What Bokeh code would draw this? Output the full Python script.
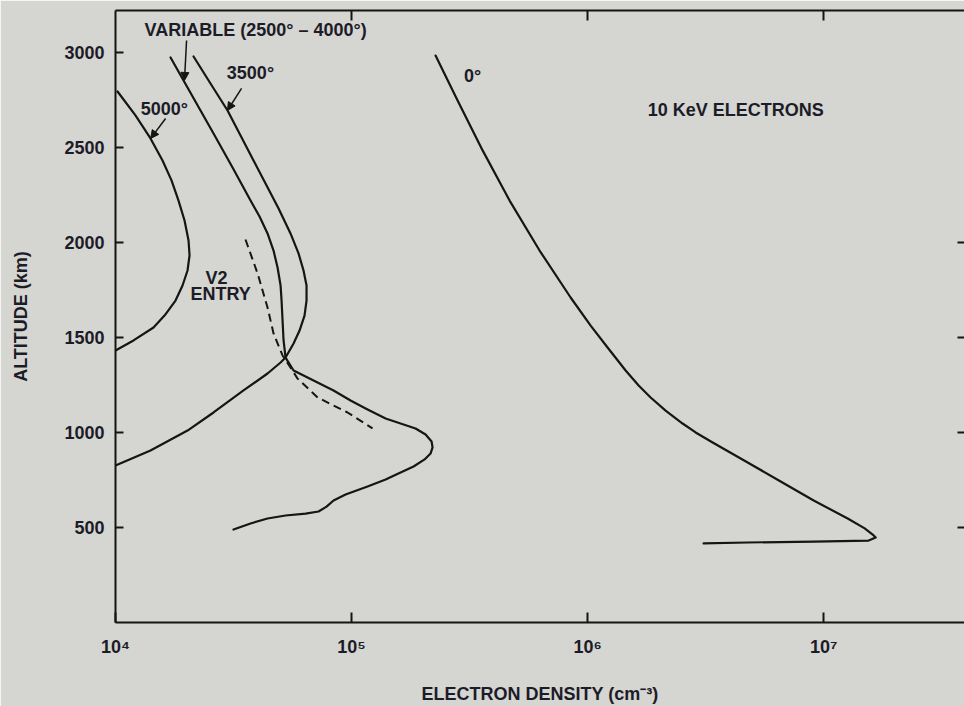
from bokeh.plotting import figure
from bokeh.models import LogAxis, LinearAxis, FixedTicker, Label, Arrow, NormalHead, Range1d
from bokeh.embed import file_html
from bokeh.resources import INLINE

# ---------------- data (electron density cm^-3 vs altitude km) ----------------
dens_5000 = [1.020e4, 1.215e4, 1.407e4, 1.582e4, 1.727e4, 1.849e4, 1.961e4, 2.039e4, 2.059e4,
             2.019e4, 1.923e4, 1.796e4, 1.613e4, 1.449e4, 1.192e4, 1.0e4]
alt_5000 = [2794, 2668, 2547, 2431, 2326, 2220, 2115, 2010, 1931,
            1852, 1773, 1694, 1615, 1552, 1484, 1431]

dens_var = [1.711e4, 1.942e4, 2.602e4, 3.132e4, 3.733e4, 4.076e4, 4.406e4, 4.672e4, 4.859e4,
            5.004e4, 5.052e4, 5.152e4, 5.253e4, 5.68e4, 6.902e4, 8.388e4, 9.903e4, 1.169e5,
            1.394e5, 1.613e5, 1.867e5, 2.059e5, 2.183e5, 2.204e5, 2.161e5, 2.039e5, 1.831e5,
            1.613e5, 1.394e5, 1.169e5, 9.432e4, 8.388e4, 7.837e4, 7.247e4, 6.385e4, 5.253e4,
            4.406e4, 3.733e4, 3.162e4]
alt_var = [2973, 2852, 2573, 2394, 2220, 2136, 2047, 1957, 1868,
           1773, 1694, 1484, 1394, 1326, 1273, 1221, 1168, 1121,
           1073, 1047, 1021, 989, 952, 921, 889, 858, 821,
           789, 752, 716, 673, 642, 610, 584, 573, 563,
           547, 521, 489]

dens_3500 = [2.141e4, 2.526e4, 2.983e4, 3.386e4, 3.843e4, 4.321e4, 4.907e4, 5.513e4, 5.962e4,
             6.259e4, 6.446e4, 6.446e4, 6.321e4, 6.021e4, 5.68e4, 5.253e4, 5.004e4, 4.406e4,
             3.486e4, 2.602e4, 2.019e4, 1.407e4, 1.0e4]
alt_3500 = [2978, 2836, 2694, 2562, 2431, 2310, 2178, 2047, 1942,
            1852, 1773, 1694, 1615, 1536, 1468, 1394, 1368, 1310,
            1221, 1105, 1010, 905, 826]

dens_v2 = [3.554e4, 4.0e4, 4.406e4, 4.672e4, 5.10e4, 5.62e4, 5.90e4, 7.18e4, 9.62e4, 1.227e5]
alt_v2 = [2015, 1836, 1657, 1521, 1405, 1326, 1284, 1184, 1105, 1021]

dens_0 = [2.269e5, 2.813e5, 3.591e5, 4.672e5, 6.259e5, 8.472e5, 1.030e6, 1.215e6, 1.449e6,
          1.645e6, 1.849e6, 2.140e6, 2.526e6, 2.868e6, 3.386e6, 4.764e6, 6.573e6, 9.072e6,
          1.264e7, 1.492e7, 1.613e7, 1.661e7, 1.551e7, 9.072e6, 4.764e6, 3.1e6]
alt_0 = [2983, 2747, 2484, 2220, 1957, 1710, 1562, 1447, 1326,
         1247, 1184, 1115, 1047, 1000, 947, 842, 742, 642,
         547, 495, 463, 447, 431, 426, 421, 416]

x_ticks = [1e4, 1e5, 1e6, 1e7]
x_tick_labels = ["10\u2074", "10\u2075", "10\u2076", "10\u2077"]
y_ticks = [500, 1000, 1500, 2000, 2500, 3000]

BG = "#d5d5d1"
INK = "#151515"
TXT = "#1c1c28"
FONT = "Liberation Sans"

p = figure(width=964, height=706, x_axis_type="log",
           x_range=Range1d(1e4, 3.95e7), y_range=Range1d(0, 3220),
           output_backend="svg", toolbar_location=None,
           min_border_left=115, min_border_right=0, min_border_top=10, min_border_bottom=84)
p.background_fill_color = BG
p.border_fill_color = BG
p.outline_line_color = None
p.xgrid.visible = False
p.ygrid.visible = False

# bottom axis
xa = p.xaxis[0]
xa.ticker = FixedTicker(ticks=x_ticks, minor_ticks=[])
xa.major_label_overrides = {t: l for t, l in zip(x_ticks, x_tick_labels)}
xa.major_tick_in = 10
xa.major_tick_out = 0
xa.major_tick_line_width = 2
xa.major_tick_line_color = INK
xa.axis_line_width = 2
xa.axis_line_color = INK
xa.major_label_standoff = 14
xa.major_label_text_font = FONT
xa.major_label_text_font_style = "bold"
xa.major_label_text_font_size = "18px"
xa.major_label_text_color = TXT
xa.axis_label = "ELECTRON DENSITY (cm\u207B\u00B3)"
xa.axis_label_standoff = 24
xa.axis_label_text_font = FONT
xa.axis_label_text_font_style = "bold"
xa.axis_label_text_font_size = "18px"
xa.axis_label_text_color = TXT

# left axis
ya = p.yaxis[0]
ya.ticker = FixedTicker(ticks=y_ticks, minor_ticks=[])
ya.major_tick_in = 8
ya.major_tick_out = 0
ya.major_tick_line_width = 2
ya.major_tick_line_color = INK
ya.axis_line_width = 2
ya.axis_line_color = INK
ya.major_label_standoff = 11
ya.major_label_text_font = FONT
ya.major_label_text_font_style = "bold"
ya.major_label_text_font_size = "18px"
ya.major_label_text_color = TXT
ya.axis_label = "ALTITUDE (km)"
ya.axis_label_standoff = 30
ya.axis_label_text_font = FONT
ya.axis_label_text_font_style = "bold"
ya.axis_label_text_font_size = "18px"
ya.axis_label_text_color = TXT

# top axis (frame line with inward ticks)
top = LogAxis(ticker=FixedTicker(ticks=x_ticks[1:], minor_ticks=[]),
              major_tick_in=10, major_tick_out=0, major_tick_line_width=2,
              major_tick_line_color=INK, axis_line_width=2, axis_line_color=INK,
              major_label_text_font_size="1px", major_label_text_color=None,
              major_label_standoff=0)
p.add_layout(top, "above")

# right axis ticks only
right = LinearAxis(ticker=FixedTicker(ticks=y_ticks[:4], minor_ticks=[]),
                   major_tick_in=7, major_tick_out=0, major_tick_line_width=2,
                   major_tick_line_color=INK, axis_line_color=None,
                   major_label_text_font_size="1px", major_label_text_color=None,
                   major_label_standoff=0)
p.add_layout(right, "right")

# curves
for xs, ys in [(dens_5000, alt_5000), (dens_var, alt_var), (dens_3500, alt_3500), (dens_0, alt_0)]:
    p.line(xs, ys, line_color=INK, line_width=2.2, line_join="round", line_cap="round")
p.line(dens_v2, alt_v2, line_color=INK, line_width=2, line_dash="8 5")

# annotations
labels = [
    ("VARIABLE (2500\u00B0 \u2013 4000\u00B0)", 3.92e4, 3115),
    ("3500\u00B0", 3.73e4, 2889),
    ("5000\u00B0", 1.61e4, 2704),
    ("0\u00B0", 3.26e5, 2878),
    ("10 KeV ELECTRONS", 4.24e6, 2694),
    ("V2", 2.68e4, 1810),
    ("ENTRY", 2.79e4, 1726),
]
for txt, lx, ly in labels:
    p.add_layout(Label(x=lx, y=ly, text=txt, text_font=FONT, text_font_style="bold",
                       text_font_size="18px", text_color=TXT,
                       text_align="center", text_baseline="middle"))

arrows = [
    (2.0e4, 3062, 1.96e4, 2852),
    (3.42e4, 2810, 2.98e4, 2694),
    (1.63e4, 2652, 1.41e4, 2547),
]
for x0, y0, x1, y1 in arrows:
    p.add_layout(Arrow(end=NormalHead(size=8, fill_color=INK, line_color=INK),
                       x_start=x0, y_start=y0, x_end=x1, y_end=y1,
                       line_color=INK, line_width=1.5))

open("out.html", "w").write(file_html(p, INLINE))
